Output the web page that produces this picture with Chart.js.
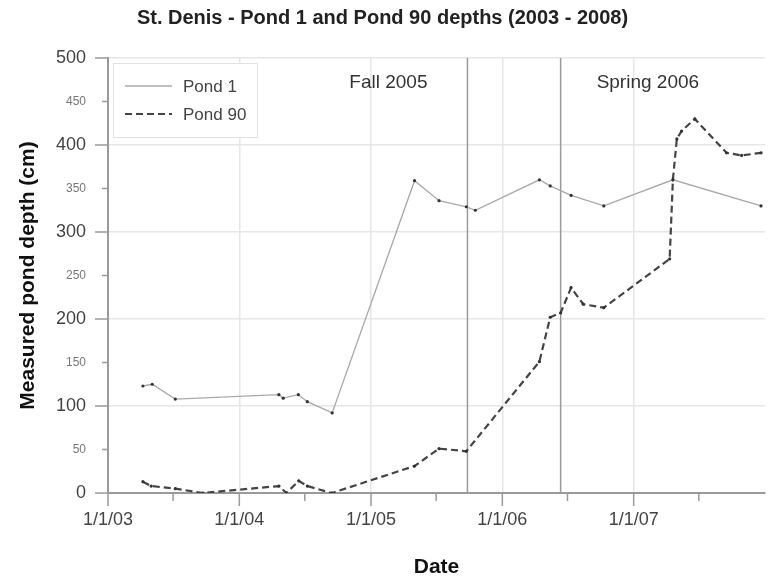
<!DOCTYPE html>
<html>
<head>
<meta charset="utf-8">
<script src="https://cdn.jsdelivr.net/npm/chart.js@4/dist/chart.umd.min.js"></script>
<style>
  html, body { margin: 0; padding: 0; background: #ffffff; }
  #wrap { width: 770px; height: 580px; }
</style>
</head>
<body>
<div id="wrap"><canvas id="c" width="770" height="580"></canvas></div>
<script>
// Titles and labels
const chartTitle = 'St. Denis - Pond 1 and Pond 90 depths (2003 - 2008)';
const xTitle = 'Date';
const yTitle = 'Measured pond depth (cm)';
const seriesNames = ['Pond 1', 'Pond 90'];

// Pond 1 survey dates and depths (cm)
const pond1Dates = ['2003-04-08', '2003-05-04', '2003-07-07', '2004-04-20', '2004-05-02', '2004-06-13',
  '2004-07-08', '2004-09-15', '2005-05-02', '2005-07-09', '2005-09-23', '2005-10-18', '2006-04-14',
  '2006-05-14', '2006-07-11', '2006-10-10', '2007-04-20', '2007-12-21'];
const pond1Depths = [123, 125, 108, 113, 109, 113, 105, 92, 359, 336, 329, 325, 360, 353, 342, 330, 360, 330];

// Pond 90 survey dates and depths (cm)
const pond90Dates = ['2003-04-08', '2003-05-01', '2003-07-07', '2003-09-22', '2004-04-20', '2004-05-11',
  '2004-06-14', '2004-07-08', '2004-09-14', '2005-05-02', '2005-07-09', '2005-09-23', '2006-04-14',
  '2006-05-14', '2006-06-12', '2006-07-11', '2006-08-14', '2006-10-10', '2007-04-11', '2007-04-20',
  '2007-05-01', '2007-05-14', '2007-06-20', '2007-09-16', '2007-10-28', '2007-12-21'];
const pond90Depths = [13, 8, 5, 0, 8, 0, 14, 8, 0, 31, 51, 48, 151, 202, 207, 236, 217, 213, 269, 360,
  407, 416, 430, 391, 388, 391];

// Axis ticks
const tickYears = [2003, 2004, 2005, 2006, 2007];
const axisStartYear = 2003;
const axisEndYear = 2008;

// Marked events
const eventDates = ['2005-09-26', '2006-06-12'];
const eventLabels = ['Fall 2005', 'Spring 2006'];

const FONT = "'Liberation Sans', Arial, Helvetica, sans-serif";

const toPoints = (dates, values) => dates.map((d, i) => ({ x: Date.parse(d), y: values[i] }));
const isJanFirst = v => { const d = new Date(v); return d.getUTCMonth() === 0 && d.getUTCDate() === 1; };
const fmtTick = v => { const d = new Date(v); return '1/1/' + String(d.getUTCFullYear()).slice(2); };

// Reference lines, event labels, legend and tick marks
const decorPlugin = {
  id: 'decor',
  beforeDatasetsDraw(chart) {
    const { ctx, chartArea, scales } = chart;
    ctx.save();
    ctx.strokeStyle = '#9a9a9a';
    ctx.lineWidth = 1.5;
    ctx.font = '19px ' + FONT;
    ctx.fillStyle = '#333';
    ctx.textBaseline = 'middle';
    eventDates.forEach((d, i) => {
      const px = scales.x.getPixelForValue(Date.parse(d));
      ctx.beginPath();
      ctx.moveTo(px, chartArea.top);
      ctx.lineTo(px, chartArea.bottom);
      ctx.stroke();
      if (i === 0) {
        ctx.textAlign = 'right';
        ctx.fillText(eventLabels[i], px - 40, chartArea.top + 25);
      } else {
        ctx.textAlign = 'left';
        ctx.fillText(eventLabels[i], px + 36, chartArea.top + 25);
      }
    });
    ctx.restore();
  },
  afterDatasetsDraw(chart) {
    const { ctx, chartArea } = chart;
    const bx = chartArea.left + 5, by = chartArea.top + 5;
    ctx.save();
    ctx.fillStyle = '#ffffff';
    ctx.strokeStyle = '#e2e2e2';
    ctx.lineWidth = 1;
    ctx.fillRect(bx, by, 144, 74);
    ctx.strokeRect(bx + 0.5, by + 0.5, 144, 74);
    chart.data.datasets.forEach((ds, i) => {
      const y = by + 23 + i * 28;
      ctx.beginPath();
      ctx.strokeStyle = ds.borderColor;
      ctx.lineWidth = ds.borderWidth;
      ctx.setLineDash(ds.borderDash || []);
      ctx.moveTo(bx + 12, y);
      ctx.lineTo(bx + 59, y);
      ctx.stroke();
      ctx.setLineDash([]);
      ctx.fillStyle = '#444';
      ctx.font = '17px ' + FONT;
      ctx.textAlign = 'left';
      ctx.textBaseline = 'middle';
      ctx.fillText(ds.label, bx + 70, y + 1);
    });
    ctx.restore();
  },
  afterDraw(chart) {
    const { ctx, chartArea, scales } = chart;
    ctx.save();
    ctx.strokeStyle = '#9a9a9a';
    ctx.lineWidth = 1.5;
    scales.y.ticks.forEach(t => {
      const py = scales.y.getPixelForValue(t.value);
      const len = t.value % 100 === 0 ? 13 : 6;
      ctx.beginPath();
      ctx.moveTo(chartArea.left - len, py);
      ctx.lineTo(chartArea.left, py);
      ctx.stroke();
    });
    scales.x.ticks.forEach(t => {
      const px = scales.x.getPixelForValue(t.value);
      const len = isJanFirst(t.value) ? 13 : 8;
      ctx.beginPath();
      ctx.moveTo(px, chartArea.bottom);
      ctx.lineTo(px, chartArea.bottom + len);
      ctx.stroke();
    });
    ctx.restore();
  }
};

new Chart(document.getElementById('c'), {
  type: 'line',
  data: {
    datasets: [
      {
        label: seriesNames[0],
        data: toPoints(pond1Dates, pond1Depths),
        borderColor: '#a8a8a8',
        borderWidth: 1.3,
        pointRadius: 1.6,
        pointBackgroundColor: '#333',
        pointBorderWidth: 0,
        tension: 0
      },
      {
        label: seriesNames[1],
        data: toPoints(pond90Dates, pond90Depths),
        borderColor: '#444',
        borderWidth: 2.2,
        borderDash: [7, 4],
        pointRadius: 1.6,
        pointBackgroundColor: '#333',
        pointBorderWidth: 0,
        tension: 0
      }
    ]
  },
  options: {
    responsive: false,
    devicePixelRatio: 1,
    animation: false,
    layout: { padding: { left: 0, right: 5, top: 0, bottom: 0 } },
    plugins: {
      legend: { display: false },
      tooltip: { enabled: false },
      title: {
        display: true,
        text: chartTitle,
        color: '#222',
        font: { family: FONT, size: 20, weight: 'bold' },
        padding: { top: 6, bottom: 28 }
      }
    },
    scales: {
      x: {
        type: 'linear',
        min: Date.UTC(axisStartYear, 0, 1),
        max: Date.UTC(axisEndYear, 0, 1),
        afterBuildTicks(scale) {
          const ticks = [];
          tickYears.forEach(y => {
            ticks.push({ value: Date.UTC(y, 0, 1) });
            ticks.push({ value: Date.UTC(y, 6, 1) });
          });
          scale.ticks = ticks;
        },
        afterFit(scale) { scale.height = 87; },
        ticks: {
          autoSkip: false,
          maxRotation: 0,
          padding: 16,
          color: '#444',
          font: { family: FONT, size: 18 },
          callback: v => (isJanFirst(v) ? fmtTick(v) : '')
        },
        grid: {
          drawTicks: false,
          lineWidth: 1.5,
          color: c => (c.tick && isJanFirst(c.tick.value) && c.tick.value > Date.UTC(axisStartYear, 0, 1)) ? '#e6e6e6' : 'rgba(0,0,0,0)'
        },
        border: { color: '#9a9a9a', width: 2 },
        title: {
          display: true,
          text: xTitle,
          color: '#111',
          font: { family: FONT, size: 21, weight: 'bold' },
          padding: { top: 0, bottom: 0 }
        }
      },
      y: {
        min: 0,
        max: 500,
        afterFit(scale) { scale.width = 108; },
        ticks: {
          stepSize: 50,
          padding: 22,
          color: c => (c.tick && c.tick.value % 100 === 0) ? '#444' : '#777',
          font: c => ({ family: FONT, size: (c.tick && c.tick.value % 100 !== 0) ? 12 : 18 })
        },
        grid: {
          drawTicks: false,
          lineWidth: 1.5,
          color: c => (c.tick && c.tick.value % 100 === 0 && c.tick.value > 0) ? '#e6e6e6' : 'rgba(0,0,0,0)'
        },
        border: { color: '#9a9a9a', width: 2 },
        title: {
          display: true,
          text: yTitle,
          color: '#111',
          font: { family: FONT, size: 21, weight: 'bold' },
          padding: { top: 16, bottom: 0 }
        }
      }
    }
  },
  plugins: [decorPlugin]
});
</script>
</body>
</html>
